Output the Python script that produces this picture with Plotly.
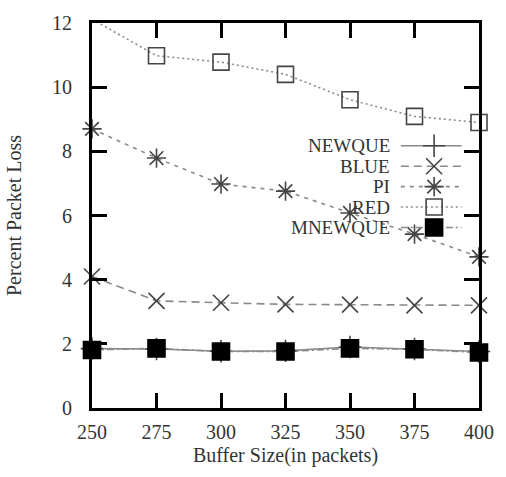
import plotly.graph_objects as go

# Buffer sizes (packets) and percent packet loss per queue discipline
buffer_size = [250, 275, 300, 325, 350, 375, 400]
newque = [1.85, 1.84, 1.77, 1.78, 1.90, 1.84, 1.76]
blue = [4.10, 3.34, 3.28, 3.23, 3.22, 3.20, 3.20]
pi = [8.70, 7.79, 6.98, 6.76, 6.08, 5.42, 4.71]
red = [12.12, 10.98, 10.78, 10.40, 9.61, 9.09, 8.90]
mnewque = [1.81, 1.86, 1.76, 1.76, 1.86, 1.83, 1.73]

x_ticks = [250, 275, 300, 325, 350, 375, 400]
y_ticks = [0, 2, 4, 6, 8, 10, 12]
X_RANGE = [250, 400]
Y_RANGE = [0, 12]

FONT = "Liberation Serif"
TEXT = "#333333"
LINE = "#8a8a8a"
MARK = "#454545"
FRAME = "black"

W, H = 506, 477
MARGIN = dict(l=91, r=18, t=13, b=69)


def fx(frac):
    """Fraction of the x range -> x data value."""
    return X_RANGE[0] + frac * (X_RANGE[1] - X_RANGE[0])


def fy(frac):
    """Fraction of the y range -> y data value."""
    return Y_RANGE[0] + frac * (Y_RANGE[1] - Y_RANGE[0])


series = [
    dict(name="NEWQUE", y=newque, dash="solid", symbol="cross-thin-open", size=16, mcolor=MARK),
    dict(name="BLUE", y=blue, dash="8px,5px", symbol="x-thin-open", size=16, mcolor=MARK),
    dict(name="PI", y=pi, dash="4px,5px", symbol="asterisk-open", size=16, mcolor=MARK),
    dict(name="RED", y=red, dash="2px,3px", symbol="square-open", size=16, mcolor=MARK),
    dict(name="MNEWQUE", y=mnewque, dash="7px,3px,2px,3px", symbol="square", size=17, mcolor="#000000"),
]

fig = go.Figure()

for s in series:
    # points above the y range are not marked (only the line reaches the border)
    if all(v <= Y_RANGE[1] for v in s["y"]):
        sizes = s["size"]
    else:
        sizes = [s["size"] if v <= Y_RANGE[1] else 0 for v in s["y"]]
    fig.add_trace(go.Scatter(
        x=buffer_size, y=s["y"], name=s["name"], mode="lines+markers",
        line=dict(color=LINE, width=1.6, dash=s["dash"]),
        marker=dict(symbol=s["symbol"], size=sizes, color=s["mcolor"], opacity=1,
                    line=dict(color=s["mcolor"], width=1.6)),
        cliponaxis=False, showlegend=False,
    ))

# Key in the upper right: right-aligned labels followed by a line sample
key_rows = [0.681, 0.628, 0.575, 0.522, 0.469]
key_line = [0.798, 0.955]
key_mark = 0.884
key_text = 0.772
for s, ky in zip(series, key_rows):
    fig.add_trace(go.Scatter(
        x=[fx(key_line[0]), fx(key_line[1])], y=[fy(ky), fy(ky)], mode="lines",
        line=dict(color=LINE, width=1.6, dash=s["dash"]),
        showlegend=False, hoverinfo="skip",
    ))
    fig.add_trace(go.Scatter(
        x=[fx(key_mark)], y=[fy(ky)], mode="markers",
        marker=dict(symbol=s["symbol"], size=s["size"], color=s["mcolor"], opacity=1,
                    line=dict(color=s["mcolor"], width=1.6)),
        showlegend=False, hoverinfo="skip",
    ))
    fig.add_annotation(
        x=key_text, y=ky, xref="x domain", yref="y domain", text=s["name"],
        showarrow=False, xanchor="right", yanchor="middle", borderpad=0,
        font=dict(family=FONT, size=19, color=TEXT),
    )

axis_common = dict(
    showline=True, linecolor=FRAME, linewidth=3, mirror="ticks",
    ticks="inside", ticklen=15, tickwidth=3, tickcolor=FRAME,
    showgrid=False, zeroline=False, layer="above traces",
    tickfont=dict(family=FONT, size=20, color=TEXT),
)

fig.update_layout(
    width=W, height=H,
    margin=MARGIN,
    paper_bgcolor="white", plot_bgcolor="white",
    xaxis=dict(range=X_RANGE, tickvals=x_ticks, ticklabelstandoff=4,
               title=dict(text="Buffer Size(in packets)", standoff=6,
                          font=dict(family=FONT, size=20, color=TEXT)),
               **axis_common),
    yaxis=dict(range=Y_RANGE, tickvals=y_ticks, ticklabelstandoff=13,
               title=dict(text="Percent Packet Loss", standoff=26,
                          font=dict(family=FONT, size=20, color=TEXT)),
               **axis_common),
    showlegend=False,
)

fig.write_html("out.html")
